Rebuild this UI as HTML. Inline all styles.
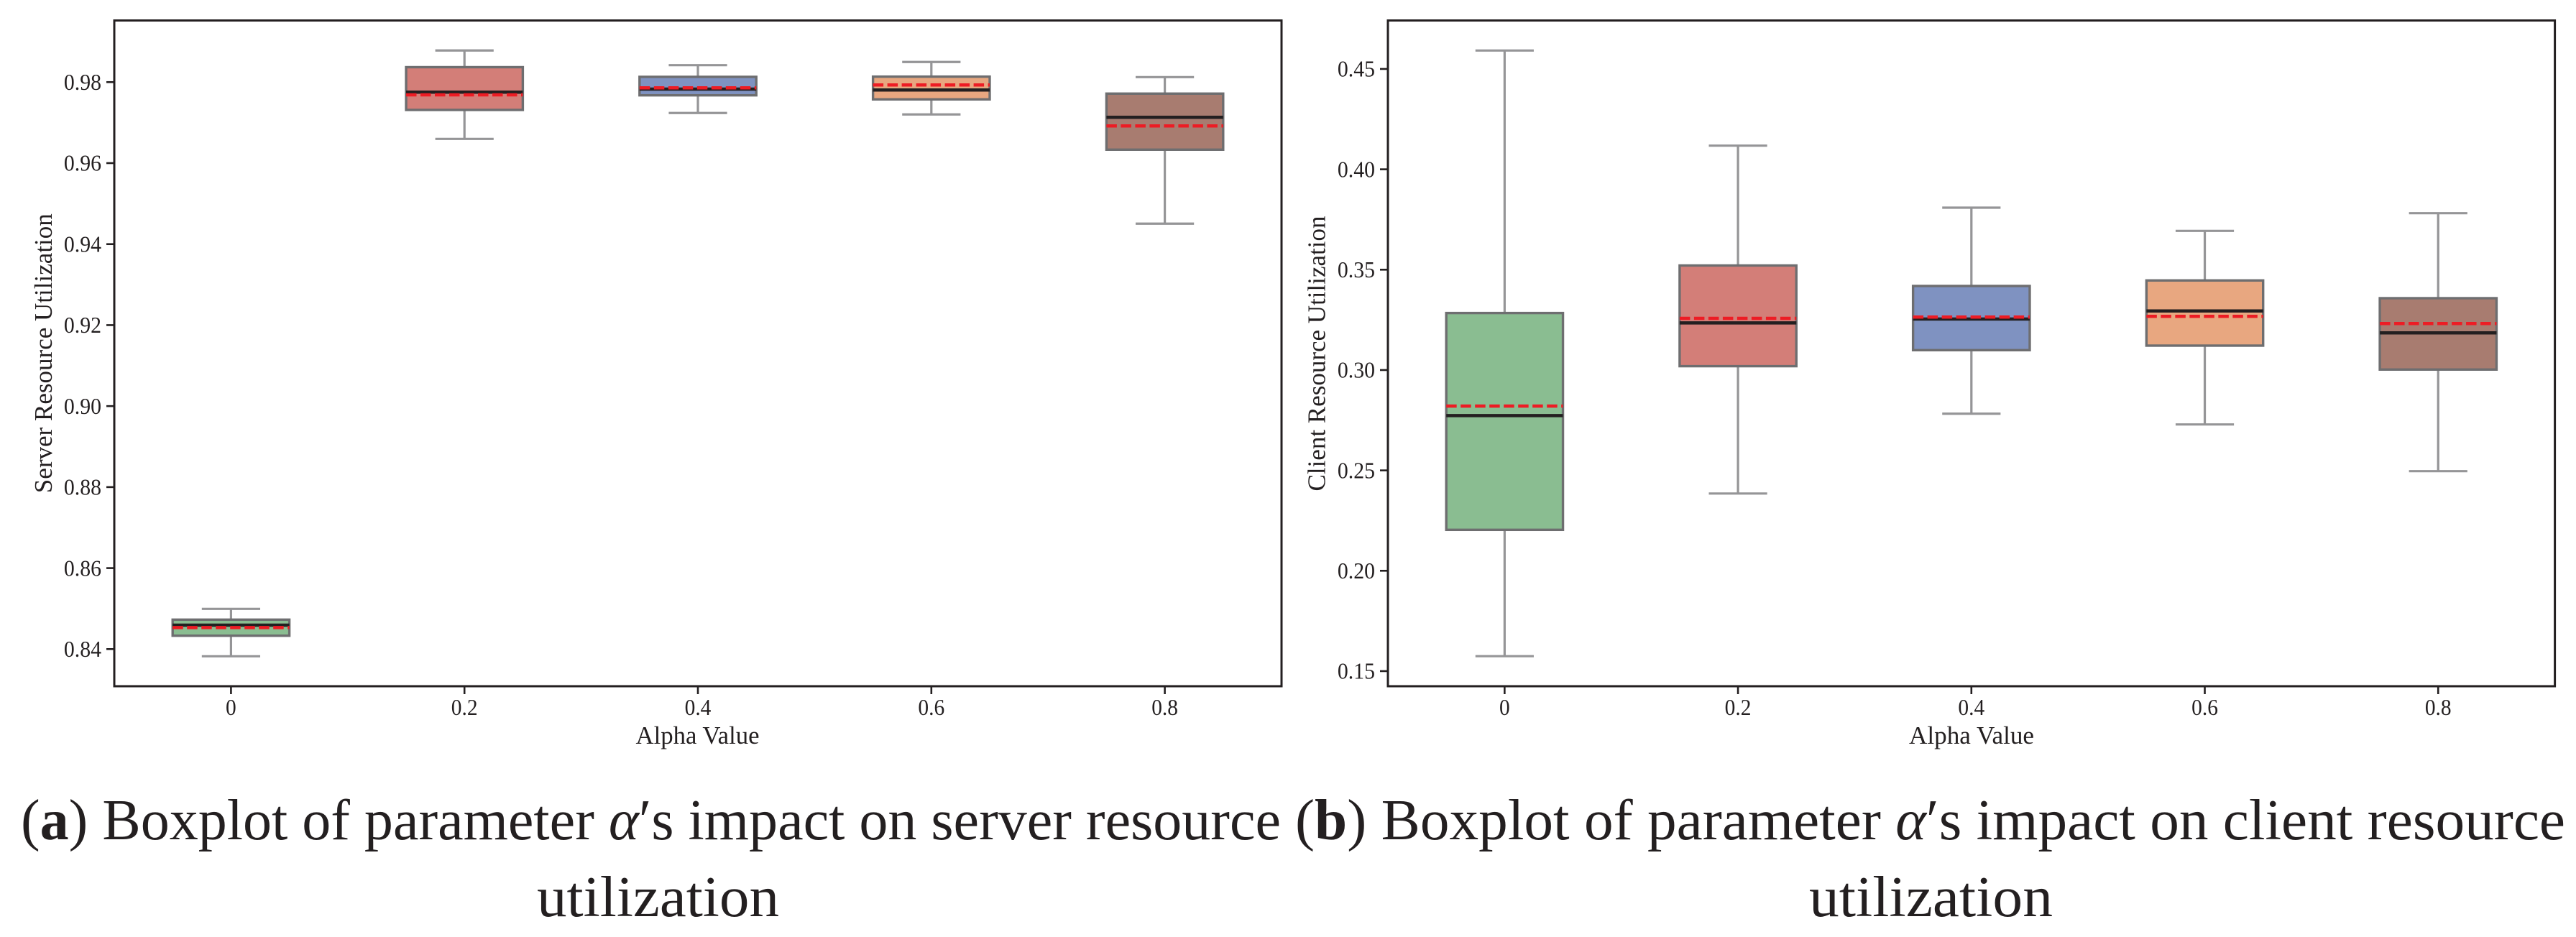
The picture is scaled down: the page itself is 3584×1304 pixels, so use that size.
<!DOCTYPE html>
<html lang="en">
<head>
<meta charset="utf-8">
<title>Boxplots of alpha impact on resource utilization</title>
<style>
html,body{margin:0;padding:0;background:#fff;width:3584px;height:1304px;overflow:hidden}
svg{display:block}
text{font-family:"Liberation Serif","DejaVu Serif",serif;fill:#231f20}
.tick{font-size:32px}
.axis-title{font-size:35px}
.caption{font-size:80px}
</style>
</head>
<body>
<svg id="figure" xmlns="http://www.w3.org/2000/svg" width="3584" height="1304" viewBox="0 0 3584 1304">
  <rect x="0" y="0" width="3584" height="1304" fill="#ffffff"/>
  <g id="chart-a"></g>
  <g id="chart-b"></g>
  <text class="axis-title" x="970.5" y="1035" text-anchor="middle" textLength="172" lengthAdjust="spacingAndGlyphs">Alpha Value</text>
  <text class="axis-title" x="2743" y="1035" text-anchor="middle" textLength="174" lengthAdjust="spacingAndGlyphs">Alpha Value</text>
  <text class="axis-title" transform="translate(72 491.7) rotate(-90)" text-anchor="middle" textLength="389" lengthAdjust="spacingAndGlyphs">Server Resource Utilization</text>
  <text class="axis-title" transform="translate(1843.5 492) rotate(-90)" text-anchor="middle" textLength="383" lengthAdjust="spacingAndGlyphs">Client Resource Utilization</text>
  <text class="caption" x="29" y="1168" textLength="1753" lengthAdjust="spacingAndGlyphs">(<tspan font-weight="bold">a</tspan>) Boxplot of parameter <tspan font-style="italic">α</tspan>′s impact on server resource</text>
  <text class="caption" x="747" y="1275" textLength="337" lengthAdjust="spacingAndGlyphs">utilization</text>
  <text class="caption" x="1802" y="1168" textLength="1767" lengthAdjust="spacingAndGlyphs">(<tspan font-weight="bold">b</tspan>) Boxplot of parameter <tspan font-style="italic">α</tspan>′s impact on client resource</text>
  <text class="caption" x="2517" y="1275" textLength="339" lengthAdjust="spacingAndGlyphs">utilization</text>
</svg>
<script>
// ---- chart data ----
const categories = ['0', '0.2', '0.4', '0.6', '0.8'];
const boxColors = ['#8abd91', '#d37e78', '#7f92c1', '#e8a780', '#a87c70'];

const serverWhiskerHigh = [0.84994, 0.98781, 0.98419, 0.98497, 0.98124];
const serverQ3          = [0.84727, 0.98369, 0.98130, 0.98135, 0.97716];
const serverMedian      = [0.84591, 0.97752, 0.97828, 0.97805, 0.97131];
const serverMean        = [0.84532, 0.97686, 0.97858, 0.97929, 0.96918];
const serverQ1          = [0.84330, 0.97313, 0.97674, 0.97574, 0.96332];
const serverWhiskerLow  = [0.83823, 0.96598, 0.97237, 0.97202, 0.94505];
const serverTicks = ['0.84', '0.86', '0.88', '0.90', '0.92', '0.94', '0.96', '0.98'];

const clientWhiskerHigh = [0.45919, 0.41179, 0.38090, 0.36933, 0.37814];
const clientQ3          = [0.32841, 0.35208, 0.34187, 0.34463, 0.33579];
const clientMedian      = [0.27729, 0.32347, 0.32540, 0.32945, 0.31850];
const clientMean        = [0.28205, 0.32576, 0.32637, 0.32673, 0.32315];
const clientQ1          = [0.22040, 0.30192, 0.30990, 0.31216, 0.30024];
const clientWhiskerLow  = [0.15743, 0.23848, 0.27825, 0.27289, 0.24963];
const clientTicks = ['0.15', '0.20', '0.25', '0.30', '0.35', '0.40', '0.45'];

const serverDomain = [0.83083, 0.99522];
const clientDomain = [0.14247, 0.47415];

// ---- drawing ----
const NS = 'http://www.w3.org/2000/svg';
const INK = '#231f20', EDGE = '#6e6e70', WHISK = '#959597', RED = '#ed1c24';

function make(tag, attrs, parent) {
  const n = document.createElementNS(NS, tag);
  for (const k in attrs) n.setAttribute(k, attrs[k]);
  parent.appendChild(n);
  return n;
}

function drawChart(root, prefix, frame, domain, ticks, s) {
  const xScale = i => frame.left + (i + 0.5) * (frame.right - frame.left) / categories.length;
  const yScale = v => frame.bottom - (v - domain[0]) / (domain[1] - domain[0]) * (frame.bottom - frame.top);
  const unit = (frame.right - frame.left) / categories.length;
  const boxW = unit * 0.5, capW = unit * 0.25;

  categories.forEach((cat, i) => {
    const cx = xScale(i);
    const g = make('g', {}, root);
    
    

    const wHi = make('line', {x1: cx, x2: cx, y1: yScale(s.high[i]), y2: yScale(s.q3[i]), stroke: WHISK, 'stroke-width': 3.2}, g);
    
    

    const wLo = make('line', {x1: cx, x2: cx, y1: yScale(s.q1[i]), y2: yScale(s.low[i]), stroke: WHISK, 'stroke-width': 3.2}, g);
    
    

    const cHi = make('line', {x1: cx - capW / 2, x2: cx + capW / 2, y1: yScale(s.high[i]), y2: yScale(s.high[i]), stroke: WHISK, 'stroke-width': 3.2}, g);
    
    

    const cLo = make('line', {x1: cx - capW / 2, x2: cx + capW / 2, y1: yScale(s.low[i]), y2: yScale(s.low[i]), stroke: WHISK, 'stroke-width': 3.2}, g);
    
    

    const box = make('rect', {x: cx - boxW / 2, y: yScale(s.q3[i]), width: boxW, height: yScale(s.q1[i]) - yScale(s.q3[i]), fill: boxColors[i], stroke: EDGE, 'stroke-width': 3.4}, g);
    
    

    const med = make('line', {x1: cx - boxW / 2, x2: cx + boxW / 2, y1: yScale(s.median[i]), y2: yScale(s.median[i]), stroke: INK, 'stroke-width': 4.5}, g);
    
    

    const mean = make('line', {x1: cx - boxW / 2, x2: cx + boxW / 2, y1: yScale(s.mean[i]), y2: yScale(s.mean[i]), stroke: RED, 'stroke-width': 4.5, 'stroke-dasharray': '14.5 5.5'}, g);
    
    

    const tick = make('line', {x1: cx, x2: cx, y1: frame.bottom, y2: frame.bottom + 11, stroke: INK, 'stroke-width': 2.6}, root);
    
    

    const lab = make('text', {x: cx, y: 995, 'text-anchor': 'middle', class: 'tick'}, root);
    lab.textContent = cat;
    
    
    lab.setAttribute('textLength', (lab.getComputedTextLength() * 0.92).toFixed(1));
    lab.setAttribute('lengthAdjust', 'spacingAndGlyphs');
  });

  ticks.forEach(label => {
    const y = yScale(parseFloat(label));
    const tick = make('line', {x1: frame.left - 11, x2: frame.left, y1: y, y2: y, stroke: INK, 'stroke-width': 2.6}, root);
    
    

    const lab = make('text', {x: frame.left - 18, y: y + 10.7, 'text-anchor': 'end', class: 'tick'}, root);
    lab.textContent = label;
    
    
    lab.setAttribute('textLength', (lab.getComputedTextLength() * 0.93).toFixed(1));
    lab.setAttribute('lengthAdjust', 'spacingAndGlyphs');
  });

  const spine = make('rect', {x: frame.left, y: frame.top, width: frame.right - frame.left, height: frame.bottom - frame.top, fill: 'none', stroke: INK, 'stroke-width': 3}, root);
  
  
}

drawChart(document.getElementById('chart-a'), 'server',
  {left: 159, right: 1783, top: 28.5, bottom: 955}, serverDomain, serverTicks,
  {high: serverWhiskerHigh, q3: serverQ3, median: serverMedian, mean: serverMean, q1: serverQ1, low: serverWhiskerLow});

drawChart(document.getElementById('chart-b'), 'client',
  {left: 1931, right: 3554.6, top: 28.5, bottom: 955}, clientDomain, clientTicks,
  {high: clientWhiskerHigh, q3: clientQ3, median: clientMedian, mean: clientMean, q1: clientQ1, low: clientWhiskerLow});
</script>
</body>
</html>
